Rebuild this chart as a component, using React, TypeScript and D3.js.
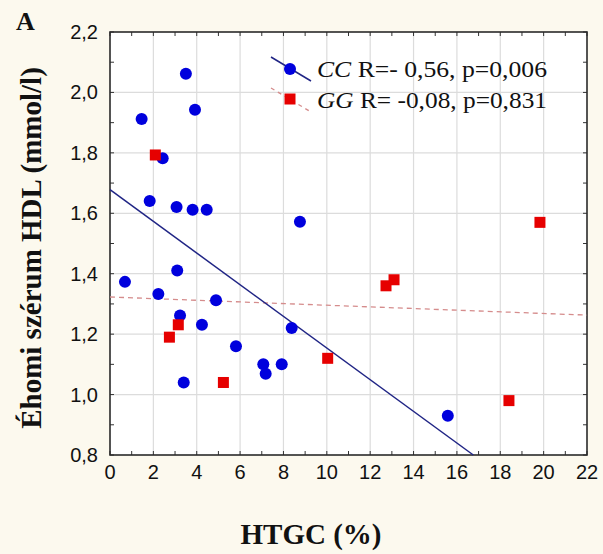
import React from "react";
import * as d3 from "d3";

// ---- data ----
const ccX = [0.69, 1.46, 1.83, 2.23, 2.43, 3.07, 3.1, 3.23, 3.4, 3.5, 3.81, 3.92, 4.24, 4.46, 4.89, 5.81, 7.07, 7.18, 7.92, 8.38, 8.76, 15.58];
const ccY = [1.373, 1.912, 1.641, 1.333, 1.782, 1.621, 1.411, 1.262, 1.04, 2.062, 1.612, 1.943, 1.231, 1.612, 1.312, 1.16, 1.1, 1.069, 1.1, 1.22, 1.572, 0.93];
const ggX = [2.09, 2.74, 3.15, 5.23, 10.04, 12.73, 13.1, 18.4, 19.83];
const ggY = [1.793, 1.19, 1.231, 1.04, 1.12, 1.36, 1.38, 0.98, 1.57];
// regression fits: [intercept, slope]
const ccFit = [1.678, -0.0524];
const ggFit = [1.323, -0.00273];
const xTicks = [0, 2, 4, 6, 8, 10, 12, 14, 16, 18, 20, 22];
const yTicks = [0.8, 1.0, 1.2, 1.4, 1.6, 1.8, 2.0, 2.2];
const legendLabels = [
  { group: "CC", text: " R=- 0,56, p=0,006" },
  { group: "GG", text: " R= -0,08, p=0,831" },
];
const xTitle = "HTGC (%)";
const yTitle = "Éhomi szérum HDL (mmol/l)";
const panelLabel = "A";

const W = 603, H = 554;
const L = 110, R = 587, T = 32, B = 455;
const BLUE = "#0000dd";
const RED = "#e60000";
const NAVY = "#202585";
const PINK = "#d58c8c";
const serif = "'Liberation Serif', 'Times New Roman', serif";
const sans = "'Liberation Sans', Arial, sans-serif";

export default function App() {
  const x = d3.scaleLinear().domain([0, 22]).range([L, R]);
  const y = d3.scaleLinear().domain([0.8, 2.2]).range([B, T]);
  const minorX = d3.range(0, 23, 1);
  const minorY = d3.range(8, 23, 1).map((v) => v / 10);
  const fmt = (v: number) => v.toFixed(1).replace(".", ",");

  // CC line from x=0 until y=0.8
  const ccEnd = (0.8 - ccFit[0]) / ccFit[1];
  const ccLine = d3.line<number>().x((d) => x(d)).y((d) => y(ccFit[0] + ccFit[1] * d))([0, ccEnd]);
  const ggLine = d3.line<number>().x((d) => x(d)).y((d) => y(ggFit[0] + ggFit[1] * d))([0, 22]);

  return (
    <svg width={W} height={H} style={{ position: "absolute", left: 0, top: 0, display: "block" }}>
      <rect x={0} y={0} width={W} height={H} fill="#fcf9ee" />
      <rect x={L} y={T} width={R - L} height={B - T} fill="#ffffff" />
      {/* grid */}
      {xTicks.slice(1, -1).map((t) => (
        <line key={"gx" + t} x1={x(t)} x2={x(t)} y1={T} y2={B} stroke="#dcdcdc" strokeWidth={1.2} />
      ))}
      {yTicks.slice(1, -1).map((t) => (
        <line key={"gy" + t} x1={L} x2={R} y1={y(t)} y2={y(t)} stroke="#dcdcdc" strokeWidth={1.2} />
      ))}
      {/* minor ticks inward */}
      {minorX.map((t) => (
        <g key={"tx" + t}>
          <line x1={x(t)} x2={x(t)} y1={B} y2={B - 4} stroke="#333" strokeWidth={1} />
          <line x1={x(t)} x2={x(t)} y1={T} y2={T + 4} stroke="#333" strokeWidth={1} />
        </g>
      ))}
      {minorY.map((t) => (
        <g key={"ty" + t}>
          <line x1={L} x2={L + 4} y1={y(t)} y2={y(t)} stroke="#333" strokeWidth={1} />
          <line x1={R} x2={R - 4} y1={y(t)} y2={y(t)} stroke="#333" strokeWidth={1} />
        </g>
      ))}
      <rect x={L} y={T} width={R - L} height={B - T} fill="none" stroke="#2a2a2a" strokeWidth={1.6} />

      {/* regression lines */}
      <path d={ggLine || ""} fill="none" stroke={PINK} strokeWidth={1.3} strokeDasharray="5,4" />
      <path d={ccLine || ""} fill="none" stroke={NAVY} strokeWidth={1.5} />

      {/* points */}
      {ccX.map((v, i) => (
        <circle key={"c" + i} cx={x(v)} cy={y(ccY[i])} r={6} fill={BLUE} />
      ))}
      {ggX.map((v, i) => (
        <rect key={"g" + i} x={x(v) - 5.5} y={y(ggY[i]) - 5.5} width={11} height={11} fill={RED} />
      ))}

      {/* tick labels */}
      {xTicks.map((t) => (
        <text key={"xl" + t} x={x(t)} y={479} textAnchor="middle" fontFamily={sans} fontSize={20} fill="#111">
          {t}
        </text>
      ))}
      {yTicks.map((t) => (
        <text key={"yl" + t} x={98} y={y(t) + 7} textAnchor="end" fontFamily={sans} fontSize={20} fill="#111">
          {fmt(t)}
        </text>
      ))}

      {/* legend */}
      <line x1={271} y1={57} x2={311} y2={81} stroke={NAVY} strokeWidth={1.5} />
      <circle cx={290} cy={69} r={6} fill={BLUE} />
      <line x1={271} y1={88} x2={311} y2={112} stroke={PINK} strokeWidth={1.3} strokeDasharray="4,4" />
      <rect x={284.5} y={93.5} width={11} height={11} fill={RED} />
      {legendLabels.map((l, i) => (
        <text key={"lg" + i} x={317} y={77 + i * 31} fontFamily={serif} fontSize={23} fill="#111" textLength={230} lengthAdjust="spacingAndGlyphs">
          <tspan fontStyle="italic">{l.group}</tspan>
          <tspan>{l.text}</tspan>
        </text>
      ))}

      {/* titles */}
      <text x={311} y={544} textAnchor="middle" fontFamily={serif} fontSize={29} fontWeight="bold" fill="#111">
        {xTitle}
      </text>
      <text transform={`translate(41,248) rotate(-90)`} textAnchor="middle" fontFamily={serif} fontSize={29} fontWeight="bold" fill="#111">
        {yTitle}
      </text>
      <text x={16} y={30} fontFamily={serif} fontSize={26} fontWeight="bold" fill="#111">
        {panelLabel}
      </text>
    </svg>
  );
}
